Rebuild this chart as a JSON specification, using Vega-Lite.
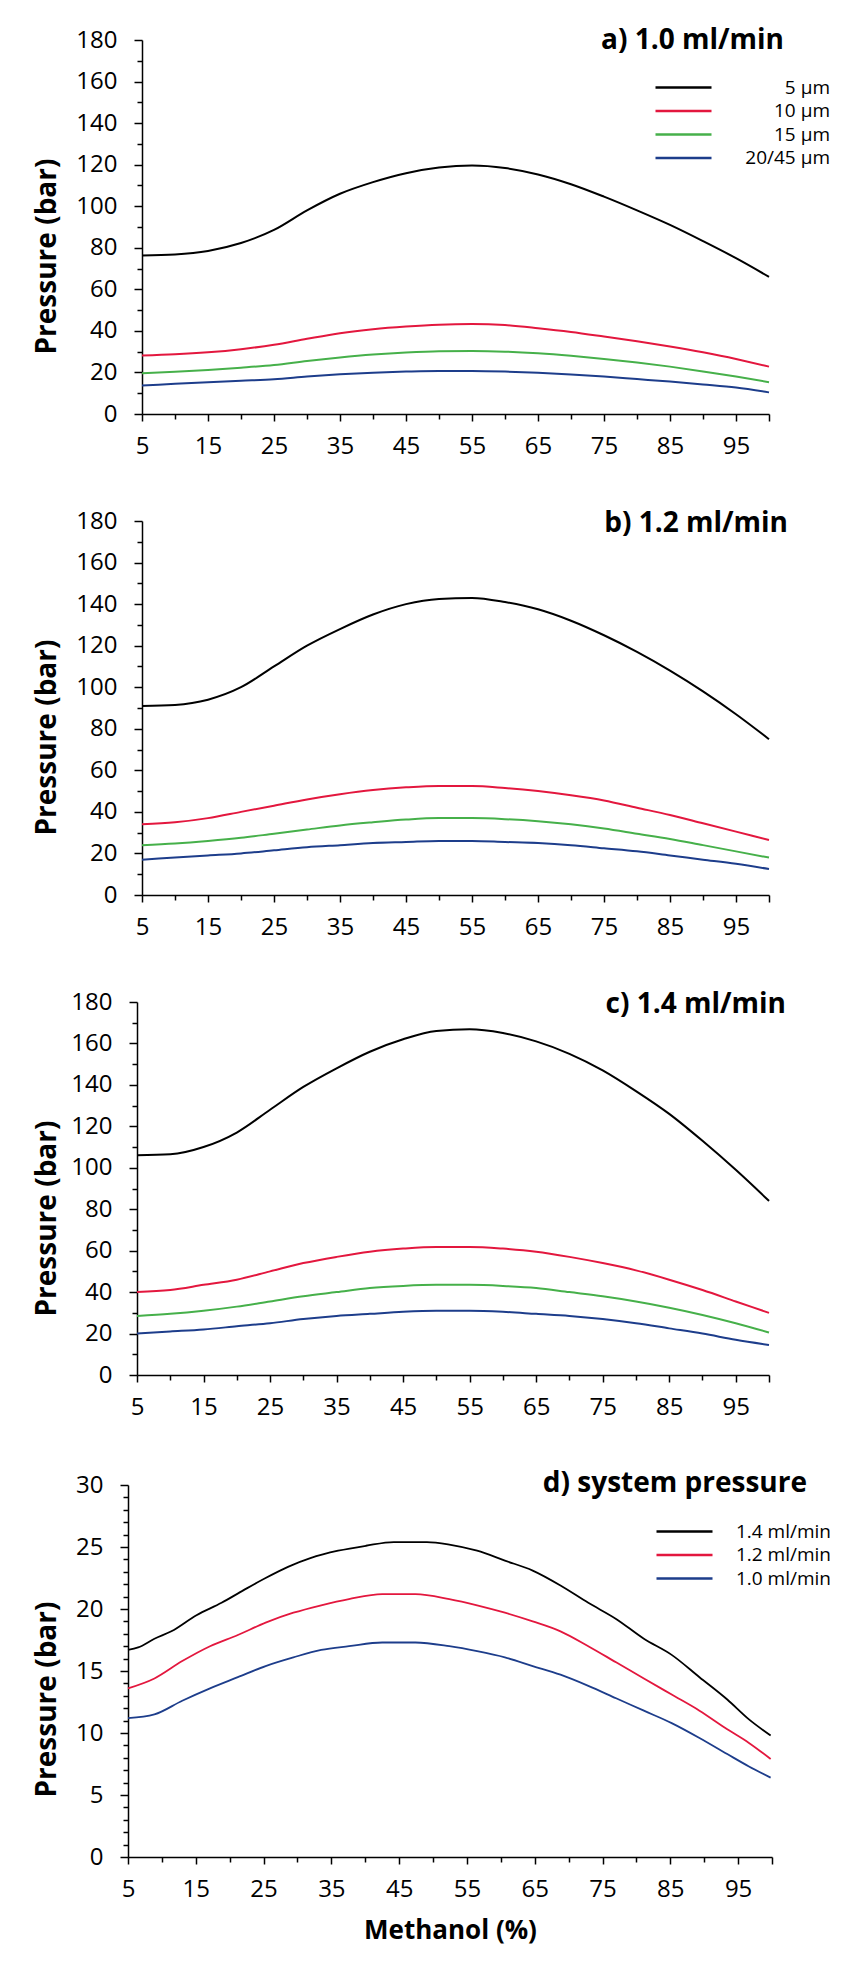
{
  "$schema": "https://vega.github.io/schema/vega-lite/v6.json",
  "padding": {"left": 33, "top": 27, "right": 0, "bottom": 6},
  "background": "white",
  "spacing": 51,
  "config": {
    "view": {"stroke": null},
    "axis": {
      "grid": false,
      "domainColor": "black",
      "domainWidth": 1.5,
      "tickColor": "black",
      "tickWidth": 1.5,
      "labelColor": "black",
      "labelFont": "Open Sans",
      "labelFontSize": 24,
      "titleColor": "black"
    },
    "legend": {
      "orient": "none",
      "title": null,
      "padding": 0,
      "symbolType": "stroke",
      "symbolSize": 3136,
      "symbolStrokeWidth": 2.5,
      "clipHeight": 19,
      "labelFont": "Open Sans",
      "labelFontSize": 19,
      "labelColor": "black",
      "labelAlign": "right",
      "labelOffset": 117,
      "rowPadding": 3.5
    },
    "title": {
      "font": "Open Sans",
      "fontSize": 28,
      "fontWeight": "bold",
      "color": "black",
      "anchor": "end",
      "frame": "group",
      "baseline": "alphabetic",
      "offset": 0
    }
  },
  "datasets": {
    "a": [
      {"methanol": 5, "pressure": 76.3, "particle": "5 µm"},
      {"methanol": 10, "pressure": 76.8, "particle": "5 µm"},
      {"methanol": 15, "pressure": 78.5, "particle": "5 µm"},
      {"methanol": 20, "pressure": 82.3, "particle": "5 µm"},
      {"methanol": 25, "pressure": 88.6, "particle": "5 µm"},
      {"methanol": 30, "pressure": 98.0, "particle": "5 µm"},
      {"methanol": 35, "pressure": 106.0, "particle": "5 µm"},
      {"methanol": 40, "pressure": 111.6, "particle": "5 µm"},
      {"methanol": 45, "pressure": 115.9, "particle": "5 µm"},
      {"methanol": 50, "pressure": 118.6, "particle": "5 µm"},
      {"methanol": 55, "pressure": 119.6, "particle": "5 µm"},
      {"methanol": 60, "pressure": 118.4, "particle": "5 µm"},
      {"methanol": 65, "pressure": 115.3, "particle": "5 µm"},
      {"methanol": 70, "pressure": 110.6, "particle": "5 µm"},
      {"methanol": 75, "pressure": 104.6, "particle": "5 µm"},
      {"methanol": 80, "pressure": 98.0, "particle": "5 µm"},
      {"methanol": 85, "pressure": 91.0, "particle": "5 µm"},
      {"methanol": 90, "pressure": 83.2, "particle": "5 µm"},
      {"methanol": 95, "pressure": 75.0, "particle": "5 µm"},
      {"methanol": 100, "pressure": 66.0, "particle": "5 µm"},
      {"methanol": 5, "pressure": 28.1, "particle": "10 µm"},
      {"methanol": 10, "pressure": 28.7, "particle": "10 µm"},
      {"methanol": 15, "pressure": 29.7, "particle": "10 µm"},
      {"methanol": 20, "pressure": 31.2, "particle": "10 µm"},
      {"methanol": 25, "pressure": 33.3, "particle": "10 µm"},
      {"methanol": 30, "pressure": 36.2, "particle": "10 µm"},
      {"methanol": 35, "pressure": 38.9, "particle": "10 µm"},
      {"methanol": 40, "pressure": 40.8, "particle": "10 µm"},
      {"methanol": 45, "pressure": 42.1, "particle": "10 µm"},
      {"methanol": 50, "pressure": 43.0, "particle": "10 µm"},
      {"methanol": 55, "pressure": 43.3, "particle": "10 µm"},
      {"methanol": 60, "pressure": 42.8, "particle": "10 µm"},
      {"methanol": 65, "pressure": 41.3, "particle": "10 µm"},
      {"methanol": 70, "pressure": 39.5, "particle": "10 µm"},
      {"methanol": 75, "pressure": 37.3, "particle": "10 µm"},
      {"methanol": 80, "pressure": 35.0, "particle": "10 µm"},
      {"methanol": 85, "pressure": 32.5, "particle": "10 µm"},
      {"methanol": 90, "pressure": 29.7, "particle": "10 µm"},
      {"methanol": 95, "pressure": 26.5, "particle": "10 µm"},
      {"methanol": 100, "pressure": 22.8, "particle": "10 µm"},
      {"methanol": 5, "pressure": 19.6, "particle": "15 µm"},
      {"methanol": 10, "pressure": 20.3, "particle": "15 µm"},
      {"methanol": 15, "pressure": 21.2, "particle": "15 µm"},
      {"methanol": 20, "pressure": 22.3, "particle": "15 µm"},
      {"methanol": 25, "pressure": 23.6, "particle": "15 µm"},
      {"methanol": 30, "pressure": 25.5, "particle": "15 µm"},
      {"methanol": 35, "pressure": 27.2, "particle": "15 µm"},
      {"methanol": 40, "pressure": 28.6, "particle": "15 µm"},
      {"methanol": 45, "pressure": 29.6, "particle": "15 µm"},
      {"methanol": 50, "pressure": 30.2, "particle": "15 µm"},
      {"methanol": 55, "pressure": 30.3, "particle": "15 µm"},
      {"methanol": 60, "pressure": 30.0, "particle": "15 µm"},
      {"methanol": 65, "pressure": 29.2, "particle": "15 µm"},
      {"methanol": 70, "pressure": 28.0, "particle": "15 µm"},
      {"methanol": 75, "pressure": 26.5, "particle": "15 µm"},
      {"methanol": 80, "pressure": 24.8, "particle": "15 µm"},
      {"methanol": 85, "pressure": 22.8, "particle": "15 µm"},
      {"methanol": 90, "pressure": 20.5, "particle": "15 µm"},
      {"methanol": 95, "pressure": 18.0, "particle": "15 µm"},
      {"methanol": 100, "pressure": 15.3, "particle": "15 µm"},
      {"methanol": 5, "pressure": 13.7, "particle": "20/45 µm"},
      {"methanol": 10, "pressure": 14.5, "particle": "20/45 µm"},
      {"methanol": 15, "pressure": 15.3, "particle": "20/45 µm"},
      {"methanol": 20, "pressure": 16.0, "particle": "20/45 µm"},
      {"methanol": 25, "pressure": 16.7, "particle": "20/45 µm"},
      {"methanol": 30, "pressure": 18.0, "particle": "20/45 µm"},
      {"methanol": 35, "pressure": 19.1, "particle": "20/45 µm"},
      {"methanol": 40, "pressure": 19.9, "particle": "20/45 µm"},
      {"methanol": 45, "pressure": 20.4, "particle": "20/45 µm"},
      {"methanol": 50, "pressure": 20.7, "particle": "20/45 µm"},
      {"methanol": 55, "pressure": 20.7, "particle": "20/45 µm"},
      {"methanol": 60, "pressure": 20.4, "particle": "20/45 µm"},
      {"methanol": 65, "pressure": 19.8, "particle": "20/45 µm"},
      {"methanol": 70, "pressure": 19.0, "particle": "20/45 µm"},
      {"methanol": 75, "pressure": 18.0, "particle": "20/45 µm"},
      {"methanol": 80, "pressure": 16.8, "particle": "20/45 µm"},
      {"methanol": 85, "pressure": 15.6, "particle": "20/45 µm"},
      {"methanol": 90, "pressure": 14.2, "particle": "20/45 µm"},
      {"methanol": 95, "pressure": 12.7, "particle": "20/45 µm"},
      {"methanol": 100, "pressure": 10.4, "particle": "20/45 µm"}
    ],
    "b": [
      {"methanol": 5, "pressure": 91, "particle": "5 µm"},
      {"methanol": 10, "pressure": 91.5, "particle": "5 µm"},
      {"methanol": 15, "pressure": 94, "particle": "5 µm"},
      {"methanol": 20, "pressure": 100, "particle": "5 µm"},
      {"methanol": 25, "pressure": 110, "particle": "5 µm"},
      {"methanol": 30, "pressure": 120, "particle": "5 µm"},
      {"methanol": 35, "pressure": 128, "particle": "5 µm"},
      {"methanol": 40, "pressure": 135, "particle": "5 µm"},
      {"methanol": 45, "pressure": 140, "particle": "5 µm"},
      {"methanol": 50, "pressure": 142.5, "particle": "5 µm"},
      {"methanol": 55, "pressure": 143, "particle": "5 µm"},
      {"methanol": 60, "pressure": 141, "particle": "5 µm"},
      {"methanol": 65, "pressure": 137.5, "particle": "5 µm"},
      {"methanol": 70, "pressure": 132, "particle": "5 µm"},
      {"methanol": 75, "pressure": 125, "particle": "5 µm"},
      {"methanol": 80, "pressure": 117, "particle": "5 µm"},
      {"methanol": 85, "pressure": 108, "particle": "5 µm"},
      {"methanol": 90, "pressure": 98, "particle": "5 µm"},
      {"methanol": 95, "pressure": 87, "particle": "5 µm"},
      {"methanol": 100, "pressure": 75, "particle": "5 µm"},
      {"methanol": 5, "pressure": 34, "particle": "10 µm"},
      {"methanol": 10, "pressure": 35, "particle": "10 µm"},
      {"methanol": 15, "pressure": 37, "particle": "10 µm"},
      {"methanol": 20, "pressure": 40, "particle": "10 µm"},
      {"methanol": 25, "pressure": 43, "particle": "10 µm"},
      {"methanol": 30, "pressure": 46, "particle": "10 µm"},
      {"methanol": 35, "pressure": 48.5, "particle": "10 µm"},
      {"methanol": 40, "pressure": 50.5, "particle": "10 µm"},
      {"methanol": 45, "pressure": 51.8, "particle": "10 µm"},
      {"methanol": 50, "pressure": 52.5, "particle": "10 µm"},
      {"methanol": 55, "pressure": 52.5, "particle": "10 µm"},
      {"methanol": 60, "pressure": 51.5, "particle": "10 µm"},
      {"methanol": 65, "pressure": 50, "particle": "10 µm"},
      {"methanol": 70, "pressure": 48, "particle": "10 µm"},
      {"methanol": 75, "pressure": 45.5, "particle": "10 µm"},
      {"methanol": 80, "pressure": 42, "particle": "10 µm"},
      {"methanol": 85, "pressure": 38.5, "particle": "10 µm"},
      {"methanol": 90, "pressure": 34.5, "particle": "10 µm"},
      {"methanol": 95, "pressure": 30.5, "particle": "10 µm"},
      {"methanol": 100, "pressure": 26.5, "particle": "10 µm"},
      {"methanol": 5, "pressure": 24, "particle": "15 µm"},
      {"methanol": 10, "pressure": 24.8, "particle": "15 µm"},
      {"methanol": 15, "pressure": 26, "particle": "15 µm"},
      {"methanol": 20, "pressure": 27.5, "particle": "15 µm"},
      {"methanol": 25, "pressure": 29.5, "particle": "15 µm"},
      {"methanol": 30, "pressure": 31.5, "particle": "15 µm"},
      {"methanol": 35, "pressure": 33.5, "particle": "15 µm"},
      {"methanol": 40, "pressure": 35, "particle": "15 µm"},
      {"methanol": 45, "pressure": 36.3, "particle": "15 µm"},
      {"methanol": 50, "pressure": 37, "particle": "15 µm"},
      {"methanol": 55, "pressure": 37, "particle": "15 µm"},
      {"methanol": 60, "pressure": 36.5, "particle": "15 µm"},
      {"methanol": 65, "pressure": 35.5, "particle": "15 µm"},
      {"methanol": 70, "pressure": 34, "particle": "15 µm"},
      {"methanol": 75, "pressure": 32, "particle": "15 µm"},
      {"methanol": 80, "pressure": 29.5, "particle": "15 µm"},
      {"methanol": 85, "pressure": 27, "particle": "15 µm"},
      {"methanol": 90, "pressure": 24, "particle": "15 µm"},
      {"methanol": 95, "pressure": 21, "particle": "15 µm"},
      {"methanol": 100, "pressure": 18, "particle": "15 µm"},
      {"methanol": 5, "pressure": 17, "particle": "20/45 µm"},
      {"methanol": 10, "pressure": 18, "particle": "20/45 µm"},
      {"methanol": 15, "pressure": 19, "particle": "20/45 µm"},
      {"methanol": 20, "pressure": 20, "particle": "20/45 µm"},
      {"methanol": 25, "pressure": 21.5, "particle": "20/45 µm"},
      {"methanol": 30, "pressure": 23, "particle": "20/45 µm"},
      {"methanol": 35, "pressure": 24, "particle": "20/45 µm"},
      {"methanol": 40, "pressure": 25, "particle": "20/45 µm"},
      {"methanol": 45, "pressure": 25.5, "particle": "20/45 µm"},
      {"methanol": 50, "pressure": 26, "particle": "20/45 µm"},
      {"methanol": 55, "pressure": 26, "particle": "20/45 µm"},
      {"methanol": 60, "pressure": 25.5, "particle": "20/45 µm"},
      {"methanol": 65, "pressure": 25, "particle": "20/45 µm"},
      {"methanol": 70, "pressure": 24, "particle": "20/45 µm"},
      {"methanol": 75, "pressure": 22.5, "particle": "20/45 µm"},
      {"methanol": 80, "pressure": 21, "particle": "20/45 µm"},
      {"methanol": 85, "pressure": 19, "particle": "20/45 µm"},
      {"methanol": 90, "pressure": 17, "particle": "20/45 µm"},
      {"methanol": 95, "pressure": 15, "particle": "20/45 µm"},
      {"methanol": 100, "pressure": 12.5, "particle": "20/45 µm"}
    ],
    "c": [
      {"methanol": 5, "pressure": 106, "particle": "5 µm"},
      {"methanol": 10, "pressure": 106.5, "particle": "5 µm"},
      {"methanol": 15, "pressure": 110, "particle": "5 µm"},
      {"methanol": 20, "pressure": 117, "particle": "5 µm"},
      {"methanol": 25, "pressure": 128, "particle": "5 µm"},
      {"methanol": 30, "pressure": 139, "particle": "5 µm"},
      {"methanol": 35, "pressure": 148, "particle": "5 µm"},
      {"methanol": 40, "pressure": 156, "particle": "5 µm"},
      {"methanol": 45, "pressure": 162, "particle": "5 µm"},
      {"methanol": 50, "pressure": 166, "particle": "5 µm"},
      {"methanol": 55, "pressure": 166.8, "particle": "5 µm"},
      {"methanol": 60, "pressure": 165, "particle": "5 µm"},
      {"methanol": 65, "pressure": 161, "particle": "5 µm"},
      {"methanol": 70, "pressure": 155, "particle": "5 µm"},
      {"methanol": 75, "pressure": 147, "particle": "5 µm"},
      {"methanol": 80, "pressure": 137, "particle": "5 µm"},
      {"methanol": 85, "pressure": 126, "particle": "5 µm"},
      {"methanol": 90, "pressure": 113, "particle": "5 µm"},
      {"methanol": 95, "pressure": 99, "particle": "5 µm"},
      {"methanol": 100, "pressure": 84, "particle": "5 µm"},
      {"methanol": 5, "pressure": 40, "particle": "10 µm"},
      {"methanol": 10, "pressure": 41, "particle": "10 µm"},
      {"methanol": 15, "pressure": 43.5, "particle": "10 µm"},
      {"methanol": 20, "pressure": 46, "particle": "10 µm"},
      {"methanol": 25, "pressure": 50, "particle": "10 µm"},
      {"methanol": 30, "pressure": 54, "particle": "10 µm"},
      {"methanol": 35, "pressure": 57, "particle": "10 µm"},
      {"methanol": 40, "pressure": 59.5, "particle": "10 µm"},
      {"methanol": 45, "pressure": 61, "particle": "10 µm"},
      {"methanol": 50, "pressure": 61.8, "particle": "10 µm"},
      {"methanol": 55, "pressure": 61.8, "particle": "10 µm"},
      {"methanol": 60, "pressure": 61, "particle": "10 µm"},
      {"methanol": 65, "pressure": 59.5, "particle": "10 µm"},
      {"methanol": 70, "pressure": 57, "particle": "10 µm"},
      {"methanol": 75, "pressure": 54, "particle": "10 µm"},
      {"methanol": 80, "pressure": 50.5, "particle": "10 µm"},
      {"methanol": 85, "pressure": 46, "particle": "10 µm"},
      {"methanol": 90, "pressure": 41, "particle": "10 µm"},
      {"methanol": 95, "pressure": 35.5, "particle": "10 µm"},
      {"methanol": 100, "pressure": 30, "particle": "10 µm"},
      {"methanol": 5, "pressure": 28.5, "particle": "15 µm"},
      {"methanol": 10, "pressure": 29.5, "particle": "15 µm"},
      {"methanol": 15, "pressure": 31, "particle": "15 µm"},
      {"methanol": 20, "pressure": 33, "particle": "15 µm"},
      {"methanol": 25, "pressure": 35.5, "particle": "15 µm"},
      {"methanol": 30, "pressure": 38, "particle": "15 µm"},
      {"methanol": 35, "pressure": 40, "particle": "15 µm"},
      {"methanol": 40, "pressure": 42, "particle": "15 µm"},
      {"methanol": 45, "pressure": 43, "particle": "15 µm"},
      {"methanol": 50, "pressure": 43.5, "particle": "15 µm"},
      {"methanol": 55, "pressure": 43.5, "particle": "15 µm"},
      {"methanol": 60, "pressure": 43, "particle": "15 µm"},
      {"methanol": 65, "pressure": 42, "particle": "15 µm"},
      {"methanol": 70, "pressure": 40, "particle": "15 µm"},
      {"methanol": 75, "pressure": 38, "particle": "15 µm"},
      {"methanol": 80, "pressure": 35.5, "particle": "15 µm"},
      {"methanol": 85, "pressure": 32.5, "particle": "15 µm"},
      {"methanol": 90, "pressure": 29, "particle": "15 µm"},
      {"methanol": 95, "pressure": 25, "particle": "15 µm"},
      {"methanol": 100, "pressure": 20.5, "particle": "15 µm"},
      {"methanol": 5, "pressure": 20, "particle": "20/45 µm"},
      {"methanol": 10, "pressure": 21, "particle": "20/45 µm"},
      {"methanol": 15, "pressure": 22, "particle": "20/45 µm"},
      {"methanol": 20, "pressure": 23.5, "particle": "20/45 µm"},
      {"methanol": 25, "pressure": 25, "particle": "20/45 µm"},
      {"methanol": 30, "pressure": 27, "particle": "20/45 µm"},
      {"methanol": 35, "pressure": 28.5, "particle": "20/45 µm"},
      {"methanol": 40, "pressure": 29.5, "particle": "20/45 µm"},
      {"methanol": 45, "pressure": 30.5, "particle": "20/45 µm"},
      {"methanol": 50, "pressure": 31, "particle": "20/45 µm"},
      {"methanol": 55, "pressure": 31, "particle": "20/45 µm"},
      {"methanol": 60, "pressure": 30.5, "particle": "20/45 µm"},
      {"methanol": 65, "pressure": 29.5, "particle": "20/45 µm"},
      {"methanol": 70, "pressure": 28.5, "particle": "20/45 µm"},
      {"methanol": 75, "pressure": 27, "particle": "20/45 µm"},
      {"methanol": 80, "pressure": 25, "particle": "20/45 µm"},
      {"methanol": 85, "pressure": 22.5, "particle": "20/45 µm"},
      {"methanol": 90, "pressure": 20, "particle": "20/45 µm"},
      {"methanol": 95, "pressure": 17, "particle": "20/45 µm"},
      {"methanol": 100, "pressure": 14.5, "particle": "20/45 µm"}
    ],
    "d": [
      {"methanol": 5, "pressure": 16.7, "flow": "1.4 ml/min"},
      {"methanol": 6.5, "pressure": 16.9, "flow": "1.4 ml/min"},
      {"methanol": 8.9, "pressure": 17.6, "flow": "1.4 ml/min"},
      {"methanol": 11.4, "pressure": 18.2, "flow": "1.4 ml/min"},
      {"methanol": 15.1, "pressure": 19.5, "flow": "1.4 ml/min"},
      {"methanol": 18.8, "pressure": 20.5, "flow": "1.4 ml/min"},
      {"methanol": 22, "pressure": 21.5, "flow": "1.4 ml/min"},
      {"methanol": 25.3, "pressure": 22.5, "flow": "1.4 ml/min"},
      {"methanol": 28.6, "pressure": 23.4, "flow": "1.4 ml/min"},
      {"methanol": 31.9, "pressure": 24.1, "flow": "1.4 ml/min"},
      {"methanol": 36, "pressure": 24.7, "flow": "1.4 ml/min"},
      {"methanol": 40.1, "pressure": 25.1, "flow": "1.4 ml/min"},
      {"methanol": 44.2, "pressure": 25.4, "flow": "1.4 ml/min"},
      {"methanol": 49.1, "pressure": 25.4, "flow": "1.4 ml/min"},
      {"methanol": 52.4, "pressure": 25.2, "flow": "1.4 ml/min"},
      {"methanol": 56.5, "pressure": 24.7, "flow": "1.4 ml/min"},
      {"methanol": 60.6, "pressure": 23.9, "flow": "1.4 ml/min"},
      {"methanol": 64.7, "pressure": 23.1, "flow": "1.4 ml/min"},
      {"methanol": 68.8, "pressure": 21.9, "flow": "1.4 ml/min"},
      {"methanol": 72.9, "pressure": 20.5, "flow": "1.4 ml/min"},
      {"methanol": 77, "pressure": 19.2, "flow": "1.4 ml/min"},
      {"methanol": 81.1, "pressure": 17.6, "flow": "1.4 ml/min"},
      {"methanol": 85.2, "pressure": 16.3, "flow": "1.4 ml/min"},
      {"methanol": 89.3, "pressure": 14.5, "flow": "1.4 ml/min"},
      {"methanol": 93.4, "pressure": 12.7, "flow": "1.4 ml/min"},
      {"methanol": 96.6, "pressure": 11.1, "flow": "1.4 ml/min"},
      {"methanol": 99.8, "pressure": 9.8, "flow": "1.4 ml/min"},
      {"methanol": 5, "pressure": 13.6, "flow": "1.2 ml/min"},
      {"methanol": 8.9, "pressure": 14.4, "flow": "1.2 ml/min"},
      {"methanol": 13, "pressure": 15.8, "flow": "1.2 ml/min"},
      {"methanol": 17.1, "pressure": 17.0, "flow": "1.2 ml/min"},
      {"methanol": 21.2, "pressure": 17.9, "flow": "1.2 ml/min"},
      {"methanol": 25.3, "pressure": 18.9, "flow": "1.2 ml/min"},
      {"methanol": 29.4, "pressure": 19.7, "flow": "1.2 ml/min"},
      {"methanol": 33.5, "pressure": 20.3, "flow": "1.2 ml/min"},
      {"methanol": 37.6, "pressure": 20.8, "flow": "1.2 ml/min"},
      {"methanol": 42.5, "pressure": 21.2, "flow": "1.2 ml/min"},
      {"methanol": 47.4, "pressure": 21.2, "flow": "1.2 ml/min"},
      {"methanol": 52.4, "pressure": 20.8, "flow": "1.2 ml/min"},
      {"methanol": 56.5, "pressure": 20.3, "flow": "1.2 ml/min"},
      {"methanol": 60.6, "pressure": 19.7, "flow": "1.2 ml/min"},
      {"methanol": 64.7, "pressure": 19.0, "flow": "1.2 ml/min"},
      {"methanol": 68.8, "pressure": 18.2, "flow": "1.2 ml/min"},
      {"methanol": 72.9, "pressure": 17.0, "flow": "1.2 ml/min"},
      {"methanol": 77, "pressure": 15.7, "flow": "1.2 ml/min"},
      {"methanol": 81.1, "pressure": 14.4, "flow": "1.2 ml/min"},
      {"methanol": 85.2, "pressure": 13.1, "flow": "1.2 ml/min"},
      {"methanol": 89.3, "pressure": 11.8, "flow": "1.2 ml/min"},
      {"methanol": 93.4, "pressure": 10.3, "flow": "1.2 ml/min"},
      {"methanol": 96.6, "pressure": 9.2, "flow": "1.2 ml/min"},
      {"methanol": 99.8, "pressure": 7.9, "flow": "1.2 ml/min"},
      {"methanol": 5, "pressure": 11.2, "flow": "1.0 ml/min"},
      {"methanol": 8.9, "pressure": 11.5, "flow": "1.0 ml/min"},
      {"methanol": 13, "pressure": 12.6, "flow": "1.0 ml/min"},
      {"methanol": 17.1, "pressure": 13.6, "flow": "1.0 ml/min"},
      {"methanol": 21.2, "pressure": 14.5, "flow": "1.0 ml/min"},
      {"methanol": 25.3, "pressure": 15.4, "flow": "1.0 ml/min"},
      {"methanol": 29.4, "pressure": 16.1, "flow": "1.0 ml/min"},
      {"methanol": 33.5, "pressure": 16.7, "flow": "1.0 ml/min"},
      {"methanol": 37.6, "pressure": 17.0, "flow": "1.0 ml/min"},
      {"methanol": 42.5, "pressure": 17.3, "flow": "1.0 ml/min"},
      {"methanol": 47.4, "pressure": 17.3, "flow": "1.0 ml/min"},
      {"methanol": 52.4, "pressure": 17.0, "flow": "1.0 ml/min"},
      {"methanol": 56.5, "pressure": 16.6, "flow": "1.0 ml/min"},
      {"methanol": 60.6, "pressure": 16.1, "flow": "1.0 ml/min"},
      {"methanol": 64.7, "pressure": 15.4, "flow": "1.0 ml/min"},
      {"methanol": 68.8, "pressure": 14.7, "flow": "1.0 ml/min"},
      {"methanol": 72.9, "pressure": 13.8, "flow": "1.0 ml/min"},
      {"methanol": 77, "pressure": 12.8, "flow": "1.0 ml/min"},
      {"methanol": 81.1, "pressure": 11.8, "flow": "1.0 ml/min"},
      {"methanol": 85.2, "pressure": 10.8, "flow": "1.0 ml/min"},
      {"methanol": 89.3, "pressure": 9.6, "flow": "1.0 ml/min"},
      {"methanol": 93.4, "pressure": 8.3, "flow": "1.0 ml/min"},
      {"methanol": 96.6, "pressure": 7.3, "flow": "1.0 ml/min"},
      {"methanol": 99.8, "pressure": 6.4, "flow": "1.0 ml/min"}
    ]
  },
  "resolve": {"scale": {"x": "independent", "y": "independent", "color": "independent"}, "legend": {"color": "independent"}},
  "vconcat": [
    {
      "width": 627,
      "height": 374,
      "data": {"name": "a"},
      "title": {"text": "a)  1.0 ml/min", "dx": 15, "dy": 31},
      "mark": {"type": "line", "strokeWidth": 2, "interpolate": "monotone"},
      "encoding": {
        "x": {"field": "methanol", "type": "quantitative", "scale": {"domain": [5, 100], "nice": false, "zero": false},
          "axis": {"title": null, "values": [5, 10, 15, 20, 25, 30, 35, 40, 45, 50, 55, 60, 65, 70, 75, 80, 85, 90, 95, 100], "labelExpr": "(datum.value - 5) % 10 === 0 && datum.value < 100 ? datum.label : ''", "tickSize": {"condition": {"test": "(datum.value - 5) % 10 === 0 || datum.value === 100", "value": 7}, "value": 5}, "labelPadding": 13, "labelFlush": false}},
        "y": {"field": "pressure", "type": "quantitative", "scale": {"domain": [0, 180], "nice": false},
          "axis": {"title": "Pressure (bar)", "titleFont": "Open Sans", "titleFontWeight": "bold", "titleFontSize": 28, "titleX": -95, "titleY": 216, "titleBaseline": "middle", "titleAlign": "center", "values": [0, 10, 20, 30, 40, 50, 60, 70, 80, 90, 100, 110, 120, 130, 140, 150, 160, 170, 180], "labelExpr": "datum.value % 20 === 0 ? datum.label : ''", "tickSize": {"condition": {"test": "datum.value % 20 === 0", "value": 8}, "value": 5}, "labelPadding": 17}},
        "color": {"field": "particle", "type": "nominal", "sort": ["5 µm", "10 µm", "15 µm", "20/45 µm"],
          "scale": {"domain": ["5 µm", "10 µm", "15 µm", "20/45 µm"], "range": ["#000000", "#e3173e", "#46b04a", "#1d3d8b"]},
          "legend": {"legendX": 512, "legendY": 38}}
      }
    },
    {
      "width": 627,
      "height": 374,
      "data": {"name": "b"},
      "title": {"text": "b)  1.2 ml/min", "dx": 19, "dy": 33},
      "mark": {"type": "line", "strokeWidth": 2, "interpolate": "monotone"},
      "encoding": {
        "x": {"field": "methanol", "type": "quantitative", "scale": {"domain": [5, 100], "nice": false, "zero": false},
          "axis": {"title": null, "values": [5, 10, 15, 20, 25, 30, 35, 40, 45, 50, 55, 60, 65, 70, 75, 80, 85, 90, 95, 100], "labelExpr": "(datum.value - 5) % 10 === 0 && datum.value < 100 ? datum.label : ''", "tickSize": {"condition": {"test": "(datum.value - 5) % 10 === 0 || datum.value === 100", "value": 7}, "value": 5}, "labelPadding": 13, "labelFlush": false}},
        "y": {"field": "pressure", "type": "quantitative", "scale": {"domain": [0, 180], "nice": false},
          "axis": {"title": "Pressure (bar)", "titleFont": "Open Sans", "titleFontWeight": "bold", "titleFontSize": 28, "titleX": -95, "titleY": 216, "titleBaseline": "middle", "titleAlign": "center", "values": [0, 10, 20, 30, 40, 50, 60, 70, 80, 90, 100, 110, 120, 130, 140, 150, 160, 170, 180], "labelExpr": "datum.value % 20 === 0 ? datum.label : ''", "tickSize": {"condition": {"test": "datum.value % 20 === 0", "value": 8}, "value": 5}, "labelPadding": 17}},
        "color": {"field": "particle", "type": "nominal",
          "scale": {"domain": ["5 µm", "10 µm", "15 µm", "20/45 µm"], "range": ["#000000", "#e3173e", "#46b04a", "#1d3d8b"]},
          "legend": null}
      }
    },
    {
      "width": 627,
      "height": 373,
      "data": {"name": "c"},
      "title": {"text": "c)  1.4 ml/min", "dx": 17, "dy": 33},
      "mark": {"type": "line", "strokeWidth": 2, "interpolate": "monotone"},
      "encoding": {
        "x": {"field": "methanol", "type": "quantitative", "scale": {"domain": [5, 100], "nice": false, "zero": false, "range": [-5, 627]},
          "axis": {"title": null, "values": [5, 10, 15, 20, 25, 30, 35, 40, 45, 50, 55, 60, 65, 70, 75, 80, 85, 90, 95, 100], "labelExpr": "(datum.value - 5) % 10 === 0 && datum.value < 100 ? datum.label : ''", "tickSize": {"condition": {"test": "(datum.value - 5) % 10 === 0 || datum.value === 100", "value": 7}, "value": 5}, "labelPadding": 13, "labelFlush": false}},
        "y": {"field": "pressure", "type": "quantitative", "scale": {"domain": [0, 180], "nice": false},
          "axis": {"offset": 5, "title": "Pressure (bar)", "titleFont": "Open Sans", "titleFontWeight": "bold", "titleFontSize": 28, "titleX": -90, "titleY": 216, "titleBaseline": "middle", "titleAlign": "center", "values": [0, 10, 20, 30, 40, 50, 60, 70, 80, 90, 100, 110, 120, 130, 140, 150, 160, 170, 180], "labelExpr": "datum.value % 20 === 0 ? datum.label : ''", "tickSize": {"condition": {"test": "datum.value % 20 === 0", "value": 8}, "value": 5}, "labelPadding": 17}},
        "color": {"field": "particle", "type": "nominal",
          "scale": {"domain": ["5 µm", "10 µm", "15 µm", "20/45 µm"], "range": ["#000000", "#e3173e", "#46b04a", "#1d3d8b"]},
          "legend": null}
      }
    },
    {
      "width": 630,
      "height": 372,
      "data": {"name": "d"},
      "title": {"text": "d)  system pressure", "dx": 35, "dy": 29},
      "mark": {"type": "line", "strokeWidth": 1.8, "interpolate": "monotone"},
      "encoding": {
        "x": {"field": "methanol", "type": "quantitative", "scale": {"domain": [5, 100], "nice": false, "zero": false, "range": [-14, 630]},
          "axis": {"title": "Methanol (%)", "titleFont": "Open Sans", "titleFontWeight": "bold", "titleFontSize": 26, "titlePadding": 16, "values": [5, 10, 15, 20, 25, 30, 35, 40, 45, 50, 55, 60, 65, 70, 75, 80, 85, 90, 95, 100], "labelExpr": "(datum.value - 5) % 10 === 0 && datum.value < 100 ? datum.label : ''", "tickSize": {"condition": {"test": "(datum.value - 5) % 10 === 0 || datum.value === 100", "value": 7}, "value": 5}, "labelPadding": 13, "labelFlush": false}},
        "y": {"field": "pressure", "type": "quantitative", "scale": {"domain": [0, 30], "nice": false},
          "axis": {"offset": 14, "title": "Pressure (bar)", "titleFont": "Open Sans", "titleFontWeight": "bold", "titleFontSize": 28, "titleX": -81, "titleY": 214, "titleBaseline": "middle", "titleAlign": "center", "values": [0, 1, 2, 3, 4, 5, 6, 7, 8, 9, 10, 11, 12, 13, 14, 15, 16, 17, 18, 19, 20, 21, 22, 23, 24, 25, 26, 27, 28, 29, 30], "labelExpr": "datum.value % 5 === 0 ? datum.label : ''", "tickSize": {"condition": {"test": "datum.value % 5 === 0", "value": 8}, "value": 5}, "labelPadding": 17}},
        "color": {"field": "flow", "type": "nominal", "sort": ["1.4 ml/min", "1.2 ml/min", "1.0 ml/min"],
          "scale": {"domain": ["1.4 ml/min", "1.2 ml/min", "1.0 ml/min"], "range": ["#000000", "#e3173e", "#1d3d8b"]},
          "legend": {"legendX": 513, "legendY": 37}}
      }
    }
  ]
}
